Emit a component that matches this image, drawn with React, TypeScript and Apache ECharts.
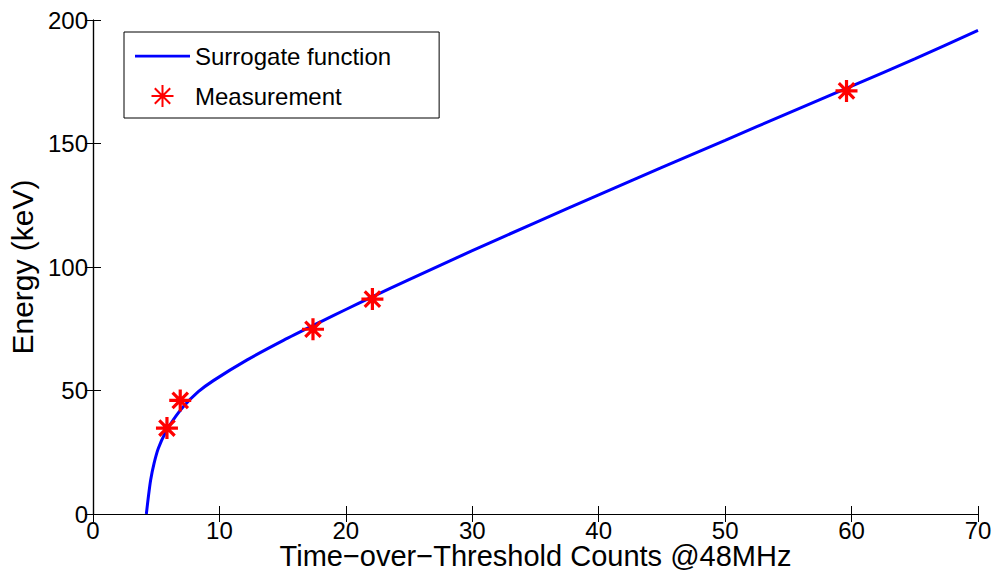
import React, { useEffect, useRef } from "react";
import * as echarts from "echarts";

const curveX = [4.22, 4.38, 4.56, 4.83, 5.17, 5.7, 6.35, 7.14, 8.33, 9.52, 12.16, 15.06, 18, 20, 22, 25, 27.5, 30, 35, 40, 45, 50, 55, 60, 65, 70];
const curveY = [0, 7, 13.8, 20.5, 26.6, 32.7, 38.1, 43.4, 49.5, 54.0, 62.3, 70.3, 77.8, 82.8, 87.7, 94.9, 100.8, 106.6, 118, 129.2, 140.3, 151.3, 162.3, 173.2, 184.3, 195.8];

const measX = [5.85, 6.9, 17.4, 22.1, 59.6];
const measY = [34.8, 46.0, 74.8, 87.0, 171.3];

const xTitle = "Time\u2212over\u2212Threshold Counts @48MHz";
const yTitle = "Energy (keV)";
const seriesNames = ["Surrogate function", "Measurement"];

const STAR = "path://M0,-10L0,10M-10,0L10,0M-7,-7L7,7M-7,7L7,-7";
const LINE_ICON = "path://M0,0L100,0L100,5L0,5Z";
const FONT = "Liberation Sans, Arial, Helvetica, sans-serif";

export default function App() {
  const ref = useRef<HTMLDivElement>(null);
  useEffect(() => {
    if (!ref.current) return;
    const chart = echarts.init(ref.current, null, { renderer: "svg" });
    const axisCommon = {
      axisLine: { show: true, lineStyle: { color: "#000", width: 1.2 } },
      axisTick: { show: true, inside: true, length: 8, lineStyle: { color: "#000", width: 1 } },
      splitLine: { show: false },
    };
    chart.setOption({
      animation: false,
      backgroundColor: "#fff",
      textStyle: { fontFamily: FONT },
      grid: { left: 93, right: 14, top: 20, bottom: 60, show: false, outerBoundsMode: "none", containLabel: false },
      legend: {
        orient: "vertical",
        left: 124,
        top: 32,
        data: [
          { name: seriesNames[0], icon: LINE_ICON },
          { name: seriesNames[1] },
        ],
        backgroundColor: "#fff",
        borderColor: "#000",
        borderWidth: 1,
        padding: [12, 48, 10, 11],
        itemGap: 16,
        itemWidth: 55,
        itemHeight: 22,
        textStyle: { fontSize: 24, color: "#000", fontFamily: FONT, lineHeight: 24 },
      },
      xAxis: [
        {
          type: "value",
          min: 0,
          max: 70,
          interval: 10,
          position: "bottom",
          name: xTitle,
          nameLocation: "middle",
          nameGap: 29,
          nameMoveOverlap: false,
          nameTextStyle: { fontSize: 29, color: "#000", fontFamily: FONT, lineHeight: 26, verticalAlign: "top", padding: 0 },
          axisLabel: { fontSize: 24, color: "#000", margin: 5, fontFamily: FONT, lineHeight: 22 },
          ...axisCommon,
        },
        {
          type: "value",
          min: 0,
          max: 70,
          interval: 10,
          position: "top",
          axisLabel: { show: false },
          ...axisCommon,
        },
      ],
      yAxis: [
        {
          type: "value",
          min: 0,
          max: 200,
          interval: 50,
          position: "left",
          name: yTitle,
          nameLocation: "middle",
          nameGap: 56,
          nameMoveOverlap: false,
          nameTextStyle: { fontSize: 30, color: "#000", fontFamily: FONT },
          axisLabel: { fontSize: 24, color: "#000", margin: 5, fontFamily: FONT },
          ...axisCommon,
        },
        {
          type: "value",
          min: 0,
          max: 200,
          interval: 50,
          position: "right",
          axisLabel: { show: false },
          ...axisCommon,
        },
      ],
      series: [
        {
          name: seriesNames[0],
          type: "line",
          data: curveX.map((x, i) => [x, curveY[i]]),
          smooth: 0.25,
          symbol: "none",
          showSymbol: false,
          lineStyle: { color: "#0000ff", width: 3 },
          itemStyle: { color: "#0000ff" },
          z: 2,
        },
        {
          name: seriesNames[1],
          type: "scatter",
          data: measX.map((x, i) => [x, measY[i]]),
          symbol: STAR,
          symbolSize: 22,
          itemStyle: { color: "rgba(0,0,0,0)", borderColor: "#ff0000", borderWidth: 3.2, opacity: 1 },
          z: 3,
        },
      ],
    });
    return () => chart.dispose();
  }, []);
  return <div ref={ref} style={{ width: 992, height: 574, position: "absolute", left: 0, top: 0 }} />;
}
